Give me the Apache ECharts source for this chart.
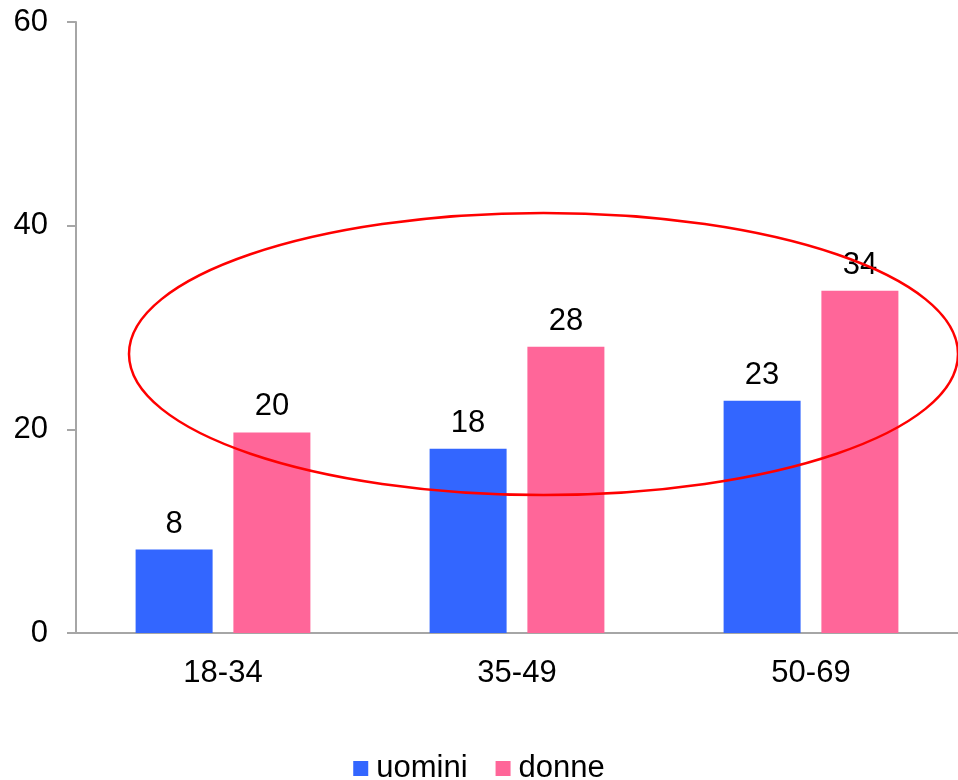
<!DOCTYPE html>
<html>
<head>
<meta charset="utf-8">
<script src="https://cdn.jsdelivr.net/npm/echarts@6/dist/echarts.min.js"></script>
<style>html,body{margin:0;padding:0;background:#fff;}#c{width:958px;height:780px;}</style>
</head>
<body>
<div id="c"></div>
<script>
var categories = ['18-34', '35-49', '50-69'];
var uomini = [8.2, 18.1, 22.8];
var donne = [19.7, 28.1, 33.6];
var seriesNames = ['uomini', 'donne'];
var yTicks = [0, 20, 40, 60];

var FONT = '"Liberation Sans", Arial, sans-serif';
var FS = 31;
var chart = echarts.init(document.getElementById('c'));
var labelCfg = {
  show: true, position: 'top', distance: 10, color: '#000',
  fontFamily: FONT, fontSize: FS,
  formatter: function (p) { return Math.round(p.value); }
};
chart.setOption({
  animation: false,
  grid: { left: 76, width: 885, top: 22, height: 611, containLabel: false },
  legend: {
    data: seriesNames, bottom: -9, left: 'center',
    itemWidth: 15, itemHeight: 15, itemGap: 28,
    icon: 'rect',
    textStyle: { fontFamily: FONT, fontSize: FS, color: '#000', padding: [0, 0, 0, 3] }
  },
  xAxis: {
    type: 'category', data: categories,
    axisLine: { lineStyle: { color: '#a6a6a6', width: 2 } },
    axisTick: { show: false },
    axisLabel: { color: '#000', fontFamily: FONT, fontSize: FS, margin: 25 }
  },
  yAxis: {
    type: 'value', min: yTicks[0], max: yTicks[yTicks.length - 1], interval: 20,
    axisLine: { show: true, lineStyle: { color: '#a6a6a6', width: 2 } },
    axisTick: { show: true, length: 9, lineStyle: { color: '#a6a6a6', width: 2 } },
    splitLine: { show: false },
    axisLabel: { color: '#000', fontFamily: FONT, fontSize: FS, margin: 28 }
  },
  series: [
    { name: seriesNames[0], type: 'bar', data: uomini, barWidth: 77, barGap: '27%',
      itemStyle: { color: '#3366FF' }, label: labelCfg },
    { name: seriesNames[1], type: 'bar', data: donne, barWidth: 77,
      itemStyle: { color: '#FF6699' }, label: labelCfg }
  ],
  graphic: [{
    type: 'ellipse', z: 100,
    shape: { cx: 543.5, cy: 354, rx: 414.5, ry: 141 },
    style: { fill: 'none', stroke: '#ff0000', lineWidth: 2.5 }
  }]
});
</script>
</body>
</html>
